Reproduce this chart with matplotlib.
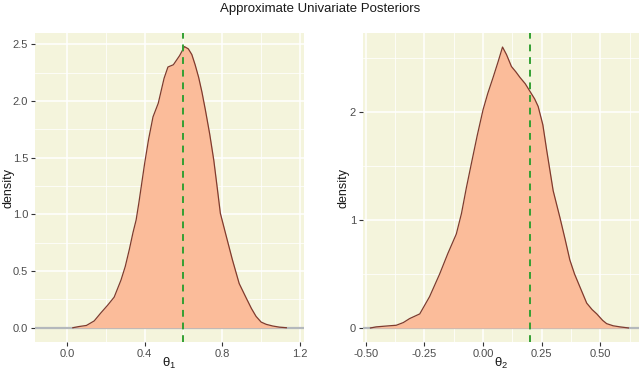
import numpy as np
import matplotlib.pyplot as plt
from matplotlib.ticker import MultipleLocator

plt.rcParams['font.family'] = ['Liberation Sans', 'DejaVu Sans']
plt.rcParams['mathtext.fontset'] = 'custom'
plt.rcParams['mathtext.rm'] = 'Liberation Sans'
plt.rcParams['mathtext.default'] = 'regular'

# density outline, theta_1
t1_x = [0.03, 0.06, 0.10, 0.14, 0.174, 0.21, 0.243, 0.278, 0.30, 0.321, 0.34, 0.356, 0.37,
        0.382, 0.40, 0.42, 0.443, 0.47, 0.50, 0.52, 0.548, 0.58, 0.605, 0.625, 0.643, 0.66,
        0.678, 0.695, 0.713, 0.735, 0.756, 0.775, 0.79, 0.817, 0.852, 0.887, 0.921, 0.95,
        0.974, 1.0, 1.026, 1.06, 1.095, 1.13]
t1_y = [0.0, 0.01, 0.02, 0.06, 0.13, 0.2, 0.27, 0.42, 0.54, 0.69, 0.84, 0.95, 1.10,
        1.24, 1.45, 1.66, 1.86, 1.98, 2.2, 2.30, 2.32, 2.40, 2.48, 2.46, 2.41, 2.32,
        2.21, 2.08, 1.92, 1.71, 1.48, 1.22, 1.01, 0.83, 0.60, 0.39, 0.27, 0.17,
        0.10, 0.05, 0.03, 0.015, 0.005, 0.0]
t1_true = 0.6

# theta_2
t2_x = [-0.48, -0.456, -0.40, -0.37, -0.34, -0.313, -0.27, -0.228, -0.185, -0.15, -0.114,
        -0.092, -0.071, -0.05, -0.025, 0.0, 0.02, 0.043, 0.065, 0.083, 0.10, 0.121, 0.14,
        0.157, 0.18, 0.2, 0.22, 0.235, 0.255, 0.271, 0.299, 0.328, 0.35, 0.37, 0.39, 0.413,
        0.442, 0.465, 0.485, 0.51, 0.527, 0.555, 0.584, 0.62]
t2_y = [0.0, 0.01, 0.02, 0.025, 0.05, 0.087, 0.13, 0.29, 0.50, 0.69, 0.87,
        1.06, 1.30, 1.52, 1.78, 2.02, 2.17, 2.32, 2.47, 2.60, 2.53, 2.42, 2.37,
        2.32, 2.26, 2.19, 2.12, 2.05, 1.88, 1.65, 1.27, 1.02, 0.82, 0.63, 0.50, 0.38,
        0.23, 0.17, 0.13, 0.07, 0.04, 0.02, 0.01, 0.0]
t2_true = 0.2

panels = [
    dict(x=t1_x, y=t1_y, true=t1_true, xlim=(-0.165, 1.221), ylim=(-0.126, 2.6),
         xmaj=0.4, xmin=0.2, ymaj=0.5, ymin=0.25, xfmt='%.1f', yfmt='%.1f',
         label=r'$\theta_1$', ylab_x=-0.10, pos=[35/640, 28/370, 269/640, 309/370]),
    dict(x=t2_x, y=t2_y, true=t2_true, xlim=(-0.512, 0.665), ylim=(-0.13, 2.73),
         xmaj=0.25, xmin=0.125, ymaj=1, ymin=0.5, xfmt='%.2f', yfmt='%d',
         label=r'$\theta_2$', ylab_x=-0.072, pos=[363/640, 28/370, 276/640, 309/370]),
]

fig = plt.figure(figsize=(6.4, 3.7), dpi=100)
fig.text(0.5, 0.977, 'Approximate Univariate Posteriors', ha='center', va='center',
         fontsize=9.5, color='#1a1a1a')

for p in panels:
    ax = fig.add_axes(p['pos'])
    ax.set_facecolor('#f4f4dc')
    for s in ax.spines.values():
        s.set_visible(False)
    ax.xaxis.set_major_locator(MultipleLocator(p['xmaj']))
    ax.xaxis.set_minor_locator(MultipleLocator(p['xmin']))
    ax.yaxis.set_major_locator(MultipleLocator(p['ymaj']))
    ax.yaxis.set_minor_locator(MultipleLocator(p['ymin']))
    ax.grid(which='major', color='white', lw=1.1)
    ax.grid(which='minor', color='white', lw=0.55)
    ax.set_axisbelow(True)
    ax.tick_params(which='major', length=3, width=0.8, color='#333333',
                   labelsize=8, labelcolor='#4d4d4d', pad=2)
    ax.tick_params(which='minor', length=0)
    ax.xaxis.set_major_formatter(plt.FormatStrFormatter(p['xfmt']))
    ax.yaxis.set_major_formatter(plt.FormatStrFormatter(p['yfmt']))

    ax.axhline(0, color='#b4b8bc', lw=1.6, zorder=2)
    ax.fill_between(p['x'], p['y'], 0, color='#fbbc9a', lw=0, zorder=3)
    ax.plot(p['x'], p['y'], color='#7f3b2e', lw=0.9, zorder=4)
    ax.axvline(p['true'], color='#33a033', lw=1.4, ls=(0, (3.5, 3)), zorder=5)

    ax.set_xlim(*p['xlim'])
    ax.set_ylim(*p['ylim'])
    ax.set_xlabel(p['label'], fontsize=9.5, color='#1a1a1a')
    ax.xaxis.set_label_coords(0.5, -0.068)
    ax.xaxis.label.set_va('center')
    ax.set_ylabel('density', fontsize=9, color='#1a1a1a')
    ax.yaxis.set_label_coords(p['ylab_x'], 0.5)
    ax.yaxis.label.set_va('center')

fig.savefig('out.png', dpi=100)
